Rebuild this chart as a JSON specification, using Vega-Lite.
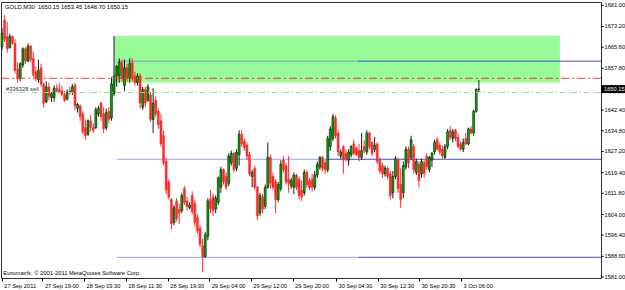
{
  "$schema": "https://vega.github.io/schema/vega-lite/v6.json",
  "width": 600,
  "height": 276,
  "autosize": "none",
  "padding": {"left": 1, "top": 2, "right": 24, "bottom": 12},
  "background": "white",
  "config": {
    "view": {"stroke": "#303030", "strokeWidth": 1},
    "font": "Liberation Sans",
    "axis": {"labelOverlap": false, "labelFlush": false},
    "scale": {"continuousPadding": 0}
  },
  "datasets": {
    "candles": [
      {"t":0,"o":1665.7,"h":1672.6,"l":1664.5,"c":1670.8},
      {"t":1,"o":1675.5,"h":1677.4,"l":1667.5,"c":1668.5},
      {"t":2,"o":1669.5,"h":1675,"l":1663.5,"c":1665},
      {"t":3,"o":1665.5,"h":1670.5,"l":1665,"c":1669.5},
      {"t":4,"o":1669.5,"h":1670,"l":1666.5,"c":1667},
      {"t":5,"o":1667,"h":1668.5,"l":1656,"c":1657},
      {"t":6,"o":1657.5,"h":1660,"l":1652.5,"c":1654},
      {"t":7,"o":1654,"h":1660,"l":1653,"c":1659.5},
      {"t":8,"o":1659,"h":1665.5,"l":1658,"c":1665},
      {"t":9,"o":1665,"h":1665.5,"l":1659.5,"c":1660.5},
      {"t":10,"o":1660.5,"h":1667,"l":1660,"c":1666},
      {"t":11,"o":1666,"h":1666.5,"l":1660,"c":1661},
      {"t":12,"o":1661.5,"h":1664,"l":1654.5,"c":1655.5},
      {"t":13,"o":1656.5,"h":1658.5,"l":1653,"c":1654},
      {"t":14,"o":1653.5,"h":1661,"l":1652.5,"c":1657},
      {"t":15,"o":1658,"h":1659.5,"l":1651,"c":1652},
      {"t":16,"o":1652,"h":1652.5,"l":1643.5,"c":1645},
      {"t":17,"o":1645.5,"h":1653,"l":1645,"c":1651},
      {"t":18,"o":1651,"h":1652.5,"l":1646,"c":1647.5},
      {"t":19,"o":1647,"h":1649,"l":1645.5,"c":1648.5},
      {"t":20,"o":1647,"h":1651.5,"l":1645.5,"c":1650.5},
      {"t":21,"o":1650.5,"h":1652,"l":1649,"c":1649.5},
      {"t":22,"o":1650,"h":1652.5,"l":1648.5,"c":1649},
      {"t":23,"o":1649.5,"h":1651.5,"l":1647.5,"c":1648},
      {"t":24,"o":1648,"h":1649.5,"l":1645.5,"c":1646},
      {"t":25,"o":1646.5,"h":1650,"l":1646,"c":1649},
      {"t":26,"o":1649.5,"h":1651,"l":1648,"c":1649},
      {"t":27,"o":1649,"h":1652,"l":1648,"c":1651},
      {"t":28,"o":1651.5,"h":1652.5,"l":1642.5,"c":1644},
      {"t":29,"o":1643,"h":1645,"l":1641.5,"c":1644.5},
      {"t":30,"o":1644,"h":1644.5,"l":1638.5,"c":1640},
      {"t":31,"o":1641,"h":1642,"l":1633.5,"c":1634.5},
      {"t":32,"o":1636,"h":1639,"l":1631.5,"c":1633},
      {"t":33,"o":1633.5,"h":1639,"l":1633,"c":1638.5},
      {"t":34,"o":1638.5,"h":1640.5,"l":1634.5,"c":1636},
      {"t":35,"o":1636,"h":1637.5,"l":1634,"c":1635},
      {"t":36,"o":1636,"h":1643.5,"l":1635.5,"c":1642.5},
      {"t":37,"o":1641,"h":1644,"l":1640,"c":1643},
      {"t":38,"o":1645,"h":1645.5,"l":1638.5,"c":1640},
      {"t":39,"o":1641,"h":1643.5,"l":1634,"c":1635.5},
      {"t":40,"o":1636,"h":1643,"l":1635,"c":1641.5},
      {"t":41,"o":1642,"h":1643.5,"l":1637.5,"c":1639},
      {"t":42,"o":1639.5,"h":1654.5,"l":1638.5,"c":1652},
      {"t":43,"o":1648.5,"h":1669.8,"l":1647.5,"c":1655},
      {"t":44,"o":1655,"h":1659,"l":1651,"c":1658.5},
      {"t":45,"o":1655,"h":1661.5,"l":1652.5,"c":1660},
      {"t":46,"o":1660,"h":1661,"l":1653,"c":1654},
      {"t":47,"o":1651.5,"h":1661,"l":1649.5,"c":1658},
      {"t":48,"o":1658,"h":1659.5,"l":1653,"c":1654},
      {"t":49,"o":1654,"h":1661.5,"l":1652.5,"c":1659.5},
      {"t":50,"o":1660,"h":1661.5,"l":1653,"c":1654},
      {"t":51,"o":1655,"h":1656.5,"l":1651.5,"c":1652.5},
      {"t":52,"o":1652.5,"h":1656,"l":1651.5,"c":1655},
      {"t":53,"o":1655,"h":1656,"l":1643,"c":1645},
      {"t":54,"o":1643.5,"h":1651,"l":1642.5,"c":1650},
      {"t":55,"o":1650,"h":1651,"l":1643.5,"c":1645},
      {"t":56,"o":1646,"h":1652,"l":1645.5,"c":1651},
      {"t":57,"o":1648,"h":1649,"l":1638,"c":1639},
      {"t":58,"o":1639,"h":1650.5,"l":1634,"c":1645},
      {"t":59,"o":1646,"h":1647.5,"l":1640,"c":1641},
      {"t":60,"o":1642,"h":1643,"l":1635.5,"c":1637},
      {"t":61,"o":1638.5,"h":1641,"l":1629,"c":1630},
      {"t":62,"o":1633,"h":1635,"l":1622,"c":1623},
      {"t":63,"o":1623.5,"h":1625,"l":1611.5,"c":1613},
      {"t":64,"o":1616,"h":1617,"l":1609.5,"c":1610.5},
      {"t":65,"o":1609.5,"h":1610,"l":1598.5,"c":1600.5},
      {"t":66,"o":1601,"h":1607.5,"l":1600,"c":1606.5},
      {"t":67,"o":1609,"h":1610,"l":1601.5,"c":1602.5},
      {"t":68,"o":1606,"h":1608,"l":1600.5,"c":1604.5},
      {"t":69,"o":1605.5,"h":1612,"l":1604.5,"c":1611},
      {"t":70,"o":1613.5,"h":1614.5,"l":1607.5,"c":1608.5},
      {"t":71,"o":1609,"h":1610.5,"l":1605.5,"c":1607},
      {"t":72,"o":1606.5,"h":1608.5,"l":1606,"c":1607.5},
      {"t":73,"o":1611,"h":1612.5,"l":1604,"c":1605},
      {"t":74,"o":1608,"h":1609.5,"l":1599.5,"c":1601},
      {"t":75,"o":1603,"h":1604,"l":1597,"c":1598},
      {"t":76,"o":1599,"h":1600,"l":1592,"c":1593},
      {"t":77,"o":1592.5,"h":1595,"l":1582.8,"c":1588.5},
      {"t":78,"o":1588.5,"h":1597.5,"l":1588,"c":1596.5},
      {"t":79,"o":1596,"h":1610,"l":1594.5,"c":1609},
      {"t":80,"o":1609.5,"h":1613,"l":1604.5,"c":1606},
      {"t":81,"o":1610.5,"h":1611.5,"l":1603.5,"c":1605.5},
      {"t":82,"o":1606,"h":1611,"l":1604.5,"c":1610},
      {"t":83,"o":1608.5,"h":1618,"l":1607.5,"c":1617.5},
      {"t":84,"o":1614,"h":1621.5,"l":1612,"c":1620.5},
      {"t":85,"o":1620.5,"h":1621,"l":1615,"c":1616},
      {"t":86,"o":1618,"h":1619.5,"l":1613,"c":1614},
      {"t":87,"o":1615.5,"h":1626.5,"l":1614.5,"c":1625.5},
      {"t":88,"o":1623,"h":1627.5,"l":1622,"c":1626.5},
      {"t":89,"o":1626.5,"h":1627,"l":1619.5,"c":1620.5},
      {"t":90,"o":1621,"h":1628,"l":1620,"c":1627},
      {"t":91,"o":1626,"h":1635,"l":1622,"c":1633.5},
      {"t":92,"o":1633.5,"h":1635,"l":1629,"c":1630},
      {"t":93,"o":1631,"h":1632,"l":1627.5,"c":1628.5},
      {"t":94,"o":1629.5,"h":1630.5,"l":1624,"c":1625.5},
      {"t":95,"o":1626,"h":1627,"l":1618,"c":1619},
      {"t":96,"o":1618,"h":1620.5,"l":1614,"c":1619.5},
      {"t":97,"o":1621,"h":1622,"l":1613,"c":1614},
      {"t":98,"o":1614,"h":1614.5,"l":1602,"c":1603.5},
      {"t":99,"o":1604.5,"h":1612,"l":1603.5,"c":1611},
      {"t":100,"o":1610.5,"h":1611.5,"l":1604.5,"c":1606},
      {"t":101,"o":1607,"h":1615,"l":1606,"c":1614},
      {"t":102,"o":1614,"h":1630.5,"l":1613.5,"c":1625},
      {"t":103,"o":1625,"h":1626,"l":1613.5,"c":1615.5},
      {"t":104,"o":1618,"h":1619.5,"l":1613,"c":1614},
      {"t":105,"o":1616,"h":1617,"l":1604.5,"c":1609.5},
      {"t":106,"o":1609.5,"h":1616,"l":1608.5,"c":1615},
      {"t":107,"o":1613.5,"h":1624,"l":1612.5,"c":1622.5},
      {"t":108,"o":1624,"h":1625.5,"l":1619.5,"c":1620.5},
      {"t":109,"o":1622,"h":1623,"l":1615,"c":1616},
      {"t":110,"o":1617,"h":1625.5,"l":1612,"c":1615.5},
      {"t":111,"o":1614.5,"h":1617.5,"l":1613.5,"c":1616.5},
      {"t":112,"o":1614,"h":1619.5,"l":1611.5,"c":1618.5},
      {"t":113,"o":1618.5,"h":1619,"l":1613,"c":1614},
      {"t":114,"o":1617,"h":1618,"l":1609.5,"c":1611},
      {"t":115,"o":1613,"h":1616.5,"l":1609,"c":1610.5},
      {"t":116,"o":1612,"h":1620.5,"l":1611,"c":1619.5},
      {"t":117,"o":1619.5,"h":1620.5,"l":1614,"c":1615},
      {"t":118,"o":1616.5,"h":1617.5,"l":1613,"c":1614},
      {"t":119,"o":1617,"h":1619,"l":1612.5,"c":1614},
      {"t":120,"o":1614,"h":1620,"l":1613,"c":1618.5},
      {"t":121,"o":1618.5,"h":1623.5,"l":1617.5,"c":1622.5},
      {"t":122,"o":1621.5,"h":1625.5,"l":1620.5,"c":1625},
      {"t":123,"o":1625,"h":1625.5,"l":1620,"c":1621},
      {"t":124,"o":1623,"h":1624,"l":1619,"c":1620.5},
      {"t":125,"o":1620.5,"h":1633,"l":1619.5,"c":1632},
      {"t":126,"o":1629,"h":1636.5,"l":1627.5,"c":1635.5},
      {"t":127,"o":1632,"h":1641,"l":1631,"c":1640},
      {"t":128,"o":1639.5,"h":1640.5,"l":1632,"c":1633},
      {"t":129,"o":1634,"h":1635,"l":1625.5,"c":1627},
      {"t":130,"o":1625.5,"h":1628,"l":1624.5,"c":1627},
      {"t":131,"o":1629,"h":1629.5,"l":1619,"c":1624},
      {"t":132,"o":1626.5,"h":1628,"l":1623.5,"c":1624.5},
      {"t":133,"o":1624,"h":1628,"l":1622,"c":1627},
      {"t":134,"o":1626,"h":1629.5,"l":1625,"c":1629},
      {"t":135,"o":1630,"h":1631.5,"l":1626,"c":1626.5},
      {"t":136,"o":1628.5,"h":1629,"l":1625.5,"c":1626},
      {"t":137,"o":1627.5,"h":1630,"l":1623.5,"c":1625},
      {"t":138,"o":1625,"h":1634,"l":1624,"c":1627.5},
      {"t":139,"o":1629,"h":1631.5,"l":1626.5,"c":1627.5},
      {"t":140,"o":1627,"h":1635,"l":1626,"c":1634},
      {"t":141,"o":1634,"h":1634.5,"l":1628,"c":1629},
      {"t":142,"o":1630.5,"h":1631,"l":1625.5,"c":1626.5},
      {"t":143,"o":1628,"h":1632.5,"l":1627,"c":1629.5},
      {"t":144,"o":1630,"h":1630.5,"l":1622.5,"c":1623.5},
      {"t":145,"o":1624,"h":1625,"l":1619,"c":1620},
      {"t":146,"o":1622,"h":1623,"l":1617.5,"c":1619},
      {"t":147,"o":1619,"h":1622,"l":1618,"c":1621},
      {"t":148,"o":1621,"h":1621.5,"l":1617,"c":1618},
      {"t":149,"o":1619,"h":1620,"l":1609.5,"c":1611},
      {"t":150,"o":1612,"h":1620,"l":1610,"c":1618},
      {"t":151,"o":1618,"h":1625.5,"l":1617,"c":1624.5},
      {"t":152,"o":1624,"h":1625,"l":1612,"c":1613.5},
      {"t":153,"o":1615,"h":1621,"l":1606.5,"c":1609.5},
      {"t":154,"o":1612,"h":1623.5,"l":1610,"c":1622},
      {"t":155,"o":1621.5,"h":1629,"l":1620.5,"c":1628},
      {"t":156,"o":1628,"h":1629,"l":1621,"c":1623},
      {"t":157,"o":1625,"h":1633,"l":1624,"c":1631.5},
      {"t":158,"o":1629,"h":1630,"l":1619,"c":1620.5},
      {"t":159,"o":1619.5,"h":1624.5,"l":1618.5,"c":1623.5},
      {"t":160,"o":1622.5,"h":1623.5,"l":1614,"c":1616.5},
      {"t":161,"o":1619,"h":1624.5,"l":1617.5,"c":1623.5},
      {"t":162,"o":1623,"h":1624,"l":1617.5,"c":1619},
      {"t":163,"o":1625.5,"h":1626.5,"l":1620.5,"c":1621.5},
      {"t":164,"o":1620.5,"h":1625.5,"l":1619.5,"c":1625},
      {"t":165,"o":1624,"h":1627,"l":1621.5,"c":1626.5},
      {"t":166,"o":1627,"h":1631.5,"l":1626,"c":1630.5},
      {"t":167,"o":1631.5,"h":1632.5,"l":1627.5,"c":1628},
      {"t":168,"o":1629.5,"h":1630.5,"l":1626,"c":1627},
      {"t":169,"o":1628,"h":1629.5,"l":1624.5,"c":1625.5},
      {"t":170,"o":1625,"h":1630,"l":1624.5,"c":1629},
      {"t":171,"o":1629,"h":1635.5,"l":1628,"c":1634.5},
      {"t":172,"o":1635,"h":1636.5,"l":1631.5,"c":1632.5},
      {"t":173,"o":1632,"h":1635.5,"l":1630.5,"c":1634.5},
      {"t":174,"o":1635,"h":1635.5,"l":1631,"c":1632},
      {"t":175,"o":1632.5,"h":1634,"l":1628.5,"c":1629},
      {"t":176,"o":1630,"h":1631,"l":1627.5,"c":1628},
      {"t":177,"o":1628,"h":1632,"l":1627,"c":1630.5},
      {"t":178,"o":1632,"h":1634,"l":1629.5,"c":1630},
      {"t":179,"o":1630,"h":1636,"l":1629.5,"c":1635.5},
      {"t":180,"o":1635.5,"h":1636.5,"l":1633.5,"c":1634},
      {"t":181,"o":1634,"h":1642.5,"l":1633,"c":1642},
      {"t":182,"o":1642,"h":1650.5,"l":1641.5,"c":1650},
      {"t":183,"o":1650,"h":1653.45,"l":1648.7,"c":1650.15}
    ],
    "hlines": [
      {"y":1660.44,"x1":44,"x2":136.6,"part":"a"},
      {"y":1660.44,"x1":136.6,"x2":229.87,"part":"b"},
      {"y":1624.33,"x1":44,"x2":124.7,"part":"a"},
      {"y":1624.33,"x1":124.7,"x2":229.87,"part":"b"},
      {"y":1588.25,"x1":44,"x2":136.6,"part":"a"},
      {"y":1588.25,"x1":136.6,"x2":229.87,"part":"b"}
    ],
    "ylabels": [
      {"v":1581},{"v":1588.6},{"v":1596.4},{"v":1604},{"v":1611.8},{"v":1619.4},{"v":1627.2},
      {"v":1634.8},{"v":1642.4},{"v":1657.8},{"v":1665.6},{"v":1673.2},{"v":1681}
    ],
    "one": [{}]
  },
  "layer": [
    {
      "data": {"values": [{"x1": 43.1, "x2": 214.1, "y1": 1669.76, "y2": 1652.55}]},
      "mark": {"type": "rect", "color": "#98fb98"},
      "encoding": {
        "x": {
          "field": "x1", "type": "quantitative", "title": null,
          "scale": {"domain": [-0.384, 229.87], "nice": false, "zero": false, "padding": 0},
          "axis": {
            "orient": "bottom", "grid": false, "domain": false, "ticks": true, "tickSize": 3, "tickColor": "#000000",
            "values": [-0.1, 15.5, 31.5, 47.6, 63.6, 79.5, 95.5, 111.5, 128.2, 144.2, 160.1, 176.1],
            "labelExpr": "['27 Sep 2011','27 Sep 19:00','28 Sep 03:30','28 Sep 11:30','28 Sep 19:30','29 Sep 04:00','29 Sep 12:00','29 Sep 20:00','30 Sep 04:30','30 Sep 12:30','30 Sep 20:30','3 Oct 06:00'][indexof([-0.1, 15.5, 31.5, 47.6, 63.6, 79.5, 95.5, 111.5, 128.2, 144.2, 160.1, 176.1], datum.value)]",
            "labelAlign": "left", "labelBaseline": "top", "labelOffset": 2, "labelPadding": 1,
            "labelFont": "Liberation Sans", "labelFontSize": 5.7, "labelColor": "#000000",
            "labelOverlap": false, "labelFlush": false, "title": null
          }
        },
        "x2": {"field": "x2"},
        "y": {
          "field": "y1", "type": "quantitative", "title": null,
          "scale": {"domain": [1580.63, 1682.21], "nice": false, "zero": false, "padding": 0},
          "axis": {
            "orient": "right", "grid": false, "domain": false, "ticks": false, "labels": false, "title": null
          }
        },
        "y2": {"field": "y2"}
      }
    },
    {
      "data": {"name": "hlines"},
      "mark": {"type": "rule", "strokeWidth": 1},
      "encoding": {
        "x": {"field": "x1", "type": "quantitative", "title": null},
        "x2": {"field": "x2"},
        "y": {"field": "y", "type": "quantitative", "title": null},
        "color": {"field": "part", "type": "nominal", "legend": null, "scale": {"domain": ["a", "b"], "range": ["#6a6ae0", "#4646d2"]}},
        "strokeOpacity": {"field": "part", "type": "nominal", "legend": null, "scale": {"domain": ["a", "b"], "range": [0.65, 1]}}
      }
    },
    {
      "data": {"name": "candles"},
      "layer": [
        {
          "mark": {"type": "rule", "strokeWidth": 1},
          "encoding": {
            "x": {"field": "t", "type": "quantitative", "title": null},
            "y": {"field": "l", "type": "quantitative", "title": null},
            "y2": {"field": "h"},
            "color": {"condition": {"test": "datum.c >= datum.o", "value": "#1a1a1a"}, "value": "#ff2a2a"}
          }
        },
        {
          "mark": {"type": "bar", "width": 2, "orient": "vertical", "strokeWidth": 0.5},
          "encoding": {
            "x": {"field": "t", "type": "quantitative", "title": null},
            "y": {"field": "o", "type": "quantitative", "title": null},
            "y2": {"field": "c"},
            "fill": {"condition": {"test": "datum.c >= datum.o", "value": "#00a800"}, "value": "#ff2a2a"},
            "stroke": {"condition": {"test": "datum.c >= datum.o", "value": "#000000"}, "value": "#ff2a2a"}
          }
        }
      ]
    },
    {
      "data": {"name": "one"},
      "mark": {"type": "rule", "color": "#f03c3c", "strokeWidth": 1, "strokeDash": [8, 3, 2, 3]},
      "encoding": {"y": {"datum": 1654.13}}
    },
    {
      "data": {"name": "one"},
      "mark": {"type": "rule", "color": "#8fd88f", "strokeWidth": 1, "strokeDash": [5, 3, 1, 3]},
      "encoding": {"y": {"datum": 1648.9}}
    },
    {
      "data": {"name": "ylabels"},
      "mark": {"type": "rule", "color": "#000000", "strokeWidth": 1},
      "encoding": {
        "x": {"datum": 229.87},
        "x2": {"datum": 230.9},
        "y": {"field": "v", "type": "quantitative", "title": null}
      }
    },
    {
      "data": {"name": "ylabels"},
      "mark": {"type": "text", "align": "left", "baseline": "middle", "dx": 3.5, "font": "Liberation Sans", "fontSize": 5.7, "color": "#000000"},
      "encoding": {
        "x": {"datum": 229.87},
        "y": {"field": "v", "type": "quantitative", "title": null},
        "text": {"field": "v", "type": "quantitative", "format": ".2f"}
      }
    },
    {
      "data": {"name": "one"},
      "mark": {"type": "text", "align": "left", "baseline": "middle", "font": "Liberation Sans", "fontSize": 5.9, "color": "#000000"},
      "encoding": {"x": {"datum": 1.15}, "y": {"datum": 1680.4}, "text": {"value": "GOLD,M30\u00a0 1650.15 1653.45 1648.70 1650.15"}}
    },
    {
      "data": {"name": "one"},
      "mark": {"type": "text", "align": "left", "baseline": "middle", "font": "Liberation Sans", "fontSize": 5.8, "color": "#333333"},
      "encoding": {"x": {"datum": 1.5}, "y": {"datum": 1650.2}, "text": {"value": "#336328 sell"}}
    },
    {
      "data": {"name": "one"},
      "mark": {"type": "text", "align": "left", "baseline": "middle", "font": "Liberation Sans", "fontSize": 5.8, "color": "#000000"},
      "encoding": {"x": {"datum": 0.5}, "y": {"datum": 1582.36}, "text": {"value": "Euromaxfx, © 2001-2011 MetaQuotes Software Corp."}}
    },
    {
      "data": {"name": "one"},
      "mark": {"type": "point", "shape": "M0,-1H6V1H0Z", "size": 64, "filled": true, "color": "#000000", "opacity": 1, "strokeWidth": 0},
      "encoding": {"x": {"datum": 229.87}, "y": {"datum": 1650.15}}
    },
    {
      "data": {"name": "one"},
      "mark": {"type": "text", "align": "left", "baseline": "middle", "dx": 3, "font": "Liberation Sans", "fontSize": 5.7, "color": "#ffffff"},
      "encoding": {"x": {"datum": 229.87}, "y": {"datum": 1650.15}, "text": {"value": "1650.15"}}
    }
  ]
}
